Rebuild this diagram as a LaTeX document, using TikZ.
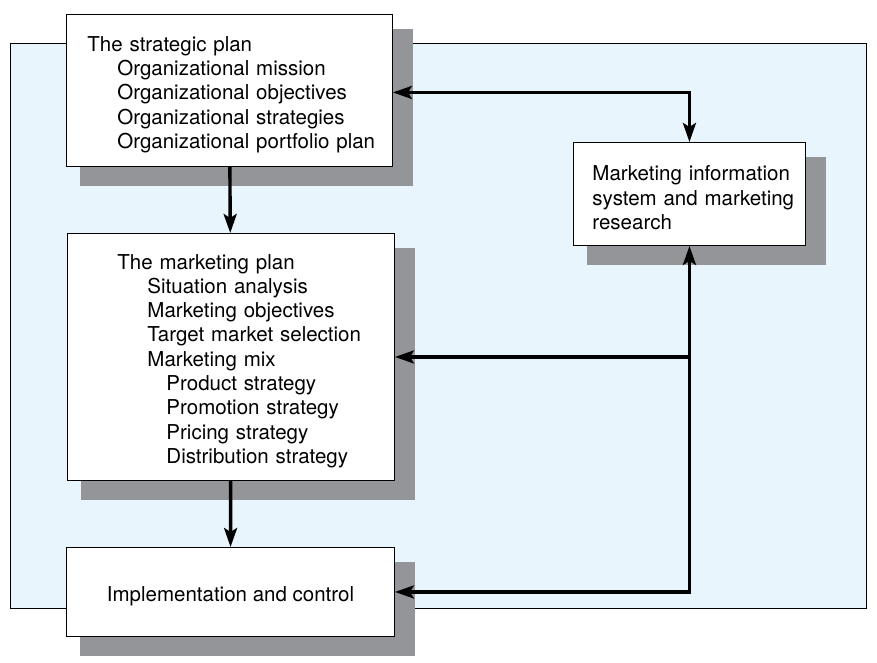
\documentclass[tikz,border=0pt]{standalone}
\usepackage{fontspec}
\setmainfont{TeX Gyre Heros}
\usetikzlibrary{arrows.meta,calc}
\pgfdeclarelayer{back}
\pgfdeclarelayer{shade}
\pgfsetlayers{back,shade,main}
\definecolor{panelblue}{RGB}{232,245,253}
\definecolor{shadegray}{RGB}{147,149,152}
\newcommand{\ind}{\hspace*{30pt}}
\newcommand{\indd}{\hspace*{49pt}}

\begin{document}
\begin{tikzpicture}
  \tikzset{
    planbox/.style={
      draw=black,
      fill=white,
      line width=0.9pt,
      anchor=north west,
      align=left,
      inner xsep=0pt,
      inner ysep=0pt,
      font=\fontsize{20.5}{24.3}\selectfont
    },
    lmargin/.style={execute at begin node={\leftskip=#1\relax\rule{0pt}{23pt}}},
    boxshade/.style={fill=shadegray},
    flow/.style={line width=3.4pt, -{Stealth[length=19pt,width=13pt,inset=4pt]}},
    flowboth/.style={line width=3.4pt, {Stealth[length=19pt,width=13pt,inset=4pt]}-{Stealth[length=19pt,width=13pt,inset=4pt]}}
  }

  \useasboundingbox (0pt,0pt) rectangle (877pt,-663pt);

  \node[planbox, lmargin=21pt, text width=326pt, minimum height=152pt] (strat) at (66pt,-14pt)
    {The strategic plan\\
     \ind Organizational mission\\
     \ind Organizational objectives\\
     \ind Organizational strategies\\
     \ind Organizational portfolio plan};

  \node[planbox, lmargin=19pt, text width=232pt, minimum height=103pt] (info) at (573pt,-142pt)
    {Marketing information\\
     system and marketing\\
     research};

  \node[planbox, lmargin=50pt, text width=327pt, minimum height=247pt] (mkt) at (67pt,-233pt)
    {The marketing plan\\
     \ind Situation analysis\\
     \ind Marketing objectives\\
     \ind Target market selection\\
     \ind Marketing mix\\
     \indd Product strategy\\
     \indd Promotion strategy\\
     \indd Pricing strategy\\
     \indd Distribution strategy};

  \node[planbox, lmargin=0pt, align=center, minimum width=328pt, minimum height=89pt] (impl) at (66pt,-547pt)
    {Implementation and control};

  \begin{pgfonlayer}{back}
    \draw[fill=panelblue, line width=0.8pt] (10pt,-43pt) rectangle (866pt,-608pt);
  \end{pgfonlayer}
  \begin{pgfonlayer}{shade}
    \foreach \n in {strat,info,mkt,impl}
      \fill[boxshade] ($(\n.north west)+(14pt,-15pt)$) rectangle ($(\n.south east)+(20pt,-19pt)$);
  \end{pgfonlayer}

  \draw[flow] (strat) -- (mkt);
  \draw[flow] (mkt) -- (impl);
  \draw[flowboth] ($(strat.east)+(0pt,-2pt)$) -| (info.north);
  \draw[flowboth] (impl.east) -| (info.south);
  \draw[flow] (mkt.east -| info.south) -- (mkt.east);
\end{tikzpicture}
\end{document}
